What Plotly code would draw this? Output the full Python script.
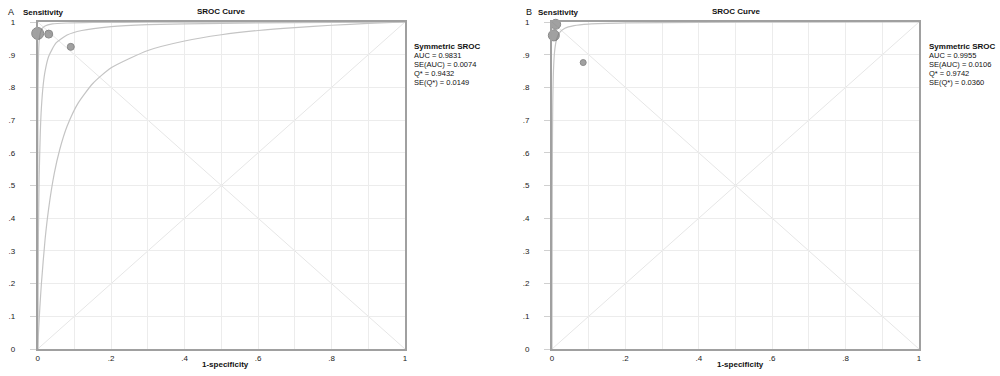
import plotly.graph_objects as go

# ---------------- data ----------------
# Panel A: SROC curve and the two companion curves
fpr_a_sroc = [0, 0.0005, 0.001, 0.002, 0.004, 0.007, 0.01, 0.015, 0.02, 0.03, 0.05, 0.08, 0.12, 0.2, 0.3, 0.5, 0.7, 1.0]
sens_a_sroc = [0, 0.121, 0.216, 0.356, 0.526, 0.660, 0.736, 0.808, 0.849, 0.895, 0.936, 0.960, 0.974, 0.986, 0.992, 0.996, 0.998, 1.0]

fpr_a_low = [0, 0.001, 0.003, 0.006, 0.01, 0.02, 0.03, 0.045, 0.06, 0.08, 0.11, 0.15, 0.2, 0.3, 0.4, 0.5, 0.6, 0.7, 0.8, 0.9, 1.0]
sens_a_low = [0, 0.024, 0.069, 0.129, 0.199, 0.334, 0.431, 0.536, 0.610, 0.681, 0.752, 0.812, 0.860, 0.913, 0.942, 0.961, 0.974, 0.983, 0.990, 0.9955, 1.0]

fpr_a_up = [0, 0.0001, 0.0003, 0.0006, 0.001, 0.002, 0.004, 0.007, 0.012, 0.02, 0.04, 0.08, 0.15, 0.3, 0.6, 1.0]
sens_a_up = [0, 0.287, 0.547, 0.707, 0.801, 0.889, 0.942, 0.966, 0.980, 0.988, 0.994, 0.997, 0.9986, 0.9994, 0.9998, 1.0]

# Panel A studies
study_fpr_a = [0.0, 0.03, 0.09]
study_sens_a = [0.965, 0.963, 0.924]
study_weight_a = [144, 64, 49]

# Panel B: SROC curve
fpr_b_sroc = [0, 0.0002, 0.0005, 0.001, 0.002, 0.004, 0.007, 0.012, 0.02, 0.035, 0.06, 0.1, 0.2, 0.4, 0.7, 1.0]
sens_b_sroc = [0, 0.221, 0.415, 0.587, 0.740, 0.851, 0.909, 0.945, 0.967, 0.981, 0.989, 0.9937, 0.9972, 0.9989, 0.9997, 1.0]

# Panel B studies
study_fpr_b = [0.01, 0.005, 0.085]
study_sens_b = [0.993, 0.959, 0.876]
study_weight_b = [100, 121, 36]

stats_a = ["AUC = 0.9831", "SE(AUC) = 0.0074", "Q* = 0.9432", "SE(Q*) = 0.0149"]
stats_b = ["AUC = 0.9955", "SE(AUC) = 0.0106", "Q* = 0.9742", "SE(Q*) = 0.0360"]

x_tickvals = [0, 0.1, 0.2, 0.3, 0.4, 0.5, 0.6, 0.7, 0.8, 0.9, 1.0]
x_ticktext = ["0", "", ".2", "", ".4", "", ".6", "", ".8", "", "1"]
y_tickvals = [0, 0.1, 0.2, 0.3, 0.4, 0.5, 0.6, 0.7, 0.8, 0.9, 1.0]
y_ticktext = ["0", ".1", ".2", ".3", ".4", ".5", ".6", ".7", ".8", ".9", "1"]

# ---------------- figure ----------------
W, H = 1000, 376
FONT = "Liberation Sans, Arial, sans-serif"
CURVE = "#c4c4c4"
GRID = "#ececec"
AXIS = "#a0a0a0"

fig = go.Figure()

def curve(x, y, xa, ya):
    fig.add_trace(go.Scatter(x=x, y=y, mode="lines", xaxis=xa, yaxis=ya,
                             line=dict(color=CURVE, width=1.2, shape="spline", smoothing=0.6),
                             hoverinfo="skip", showlegend=False, cliponaxis=False))

def studies(x, y, w, xa, ya):
    fig.add_trace(go.Scatter(x=x, y=y, mode="markers", xaxis=xa, yaxis=ya,
                             marker=dict(size=[v ** 0.5 for v in w], color="#7a7a7a",
                                         line=dict(color="#5a5a5a", width=1)),
                             showlegend=False, cliponaxis=False))

curve(fpr_a_low, sens_a_low, "x", "y")
curve(fpr_a_sroc, sens_a_sroc, "x", "y")
curve(fpr_a_up, sens_a_up, "x", "y")
studies(study_fpr_a, study_sens_a, study_weight_a, "x", "y")

curve(fpr_b_sroc, sens_b_sroc, "x2", "y2")
studies(study_fpr_b, study_sens_b, study_weight_b, "x2", "y2")

ydom = [1 - 349 / H, 1 - 22 / H]
xdom_a = [37.7 / W, 405 / W]
xdom_b = [552 / W, 919 / W]

xcommon = dict(range=[0, 1], tickvals=x_tickvals, ticktext=x_ticktext, showgrid=True,
               gridcolor=GRID, gridwidth=1, zeroline=False, showline=True, mirror=True,
               linecolor=AXIS, linewidth=2, ticks="", ticklabelstandoff=0, automargin=False,
               tickfont=dict(family=FONT, size=8, color="#222"), fixedrange=True)
ycommon = dict(range=[0, 1], tickvals=y_tickvals, ticktext=y_ticktext, showgrid=True,
               gridcolor=GRID, gridwidth=1, zeroline=False, showline=True, mirror=True,
               linecolor=AXIS, linewidth=2, ticks="outside", ticklen=6, tickcolor="#d0d0d0",
               ticklabelstandoff=13, automargin=False,
               tickfont=dict(family=FONT, size=8, color="#222"), fixedrange=True)

fig.update_layout(
    template="none",
    width=W, height=H,
    margin=dict(l=0, r=0, t=0, b=0, pad=0),
    paper_bgcolor="white", plot_bgcolor="white",
    font=dict(family=FONT, color="#222"),
    xaxis=dict(domain=xdom_a, anchor="y", **xcommon),
    yaxis=dict(domain=ydom, anchor="x", **ycommon),
    xaxis2=dict(domain=xdom_b, anchor="y2", **xcommon),
    yaxis2=dict(domain=ydom, anchor="x2", **ycommon),
)

# diagonals
for xr, yr in (("x", "y"), ("x2", "y2")):
    fig.add_shape(type="line", xref=xr, yref=yr, x0=0, y0=0, x1=1, y1=1,
                  line=dict(color="#e6e6e6", width=1), layer="below")
    fig.add_shape(type="line", xref=xr, yref=yr, x0=0, y0=1, x1=1, y1=0,
                  line=dict(color="#e6e6e6", width=1), layer="below")

def txt(px, py, s, size=8, bold=False, anchor="left"):
    fig.add_annotation(x=px / W, y=1 - py / H, xref="paper", yref="paper",
                       text=f"<b>{s}</b>" if bold else s, showarrow=False,
                       xanchor=anchor, yanchor="middle",
                       font=dict(family=FONT, size=size, color="#111"))

for off, letter, stats in ((0, "A", stats_a), (515, "B", stats_b)):
    txt(6 + off + (3 if letter == "B" else 0), 12, letter, size=9)
    txt(21 + off, 13, "Sensitivity", bold=True)
    txt(221 + off, 12, "SROC Curve", bold=True, anchor="center")
    txt(225 + off, 364, "1-specificity", bold=True, anchor="center")
    txt(412 + off, 46, "Symmetric SROC", bold=True)
    for i, s in enumerate(stats):
        txt(412 + off, 55 + 9 * i, s, size=7.5)

fig.write_html(
    "out.html",
    config={"displayModeBar": False, "staticPlot": True},
    post_script="document.body.style.margin='0';document.body.style.padding='0';"
                "document.body.style.overflow='hidden';",
)
